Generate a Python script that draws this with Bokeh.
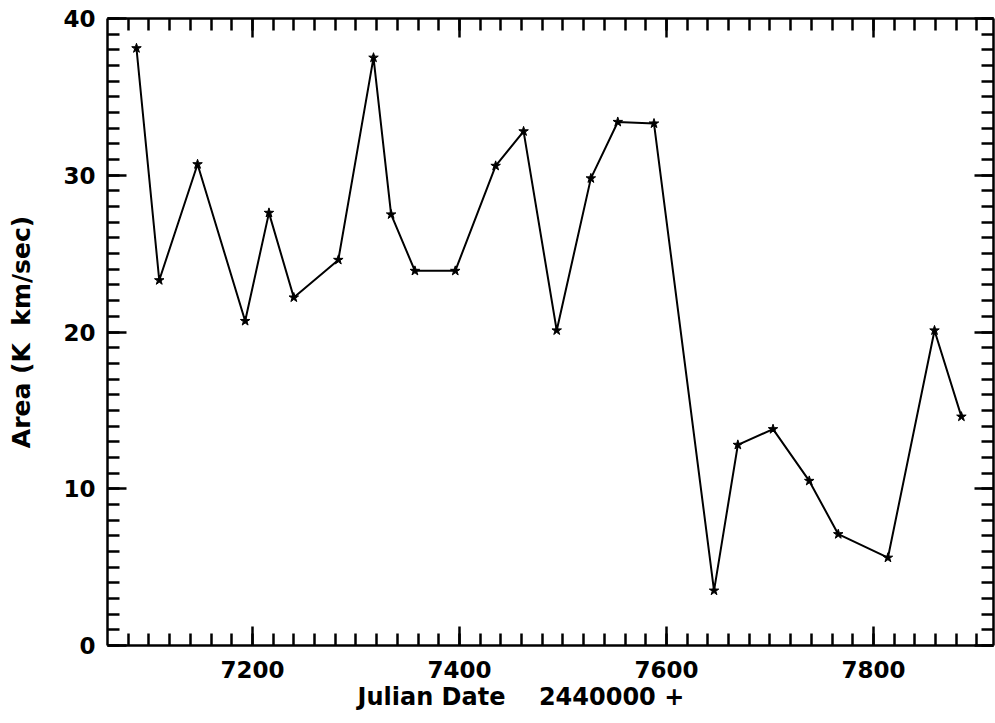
import numpy as np
from bokeh.plotting import figure
from bokeh.models import LinearAxis, FixedTicker, Range1d, Title
from bokeh.embed import file_html
from bokeh.resources import INLINE

julian_date = [7088, 7110, 7147, 7193, 7216, 7240, 7283, 7317, 7334, 7357,
               7396, 7435, 7462, 7494, 7527, 7553, 7588, 7646, 7669, 7703,
               7738, 7766, 7814, 7859, 7885]
area = [38.1, 23.3, 30.7, 20.7, 27.6, 22.2, 24.6, 37.5, 27.5, 23.9,
        23.9, 30.6, 32.8, 20.1, 29.8, 33.4, 33.3, 3.5, 12.8, 13.8,
        10.5, 7.1, 5.6, 20.1, 14.6]

x_major_ticks = [7200, 7400, 7600, 7800]
x_minor_step = 20
y_major_ticks = [0, 10, 20, 30, 40]
y_minor_step = 1
x_start, x_end = 7060, 7916
y_start, y_end = 0, 40

x_minor_ticks = [float(v) for v in np.arange(7080, x_end, x_minor_step)]
y_minor_ticks = [float(v) for v in np.arange(y_start, y_end + 0.5, y_minor_step)]

FONT = "DejaVu Sans"

p = figure(width=995, height=723, frame_width=886, frame_height=627,
           x_range=Range1d(x_start, x_end), y_range=Range1d(y_start, y_end),
           output_backend="svg", toolbar_location=None,
           y_axis_label="Area (K\u00a0\u00a0km/sec)",
           min_border_left=107, min_border_top=18, min_border_right=2,
           min_border_bottom=78)
p.grid.visible = False
p.outline_line_color = None
p.background_fill_color = "white"
p.border_fill_color = "white"

p.line(julian_date, area, line_color="black", line_width=2)
p.scatter(julian_date, area, marker="star", size=10,
          fill_color="black", line_color="black")

def style(ax, ticker, labels=True):
    ax.ticker = ticker
    ax.axis_line_width = 2.5
    ax.axis_line_color = "black"
    ax.major_tick_in = 19
    ax.major_tick_out = 0
    ax.minor_tick_in = 12
    ax.minor_tick_out = 0
    ax.major_tick_line_width = 2.5
    ax.minor_tick_line_width = 2.5
    ax.major_tick_line_color = "black"
    ax.minor_tick_line_color = "black"
    ax.major_label_text_font = FONT
    ax.major_label_text_font_style = "bold"
    if labels:
        ax.major_label_text_color = "black"
        ax.major_label_text_font_size = "23px"
    else:
        ax.major_label_text_color = None
        ax.major_label_text_font_size = "1px"
        ax.major_label_standoff = 0

def xticker():
    return FixedTicker(ticks=x_major_ticks, minor_ticks=x_minor_ticks)

def yticker():
    return FixedTicker(ticks=y_major_ticks, minor_ticks=y_minor_ticks)

style(p.xaxis[0], xticker())
style(p.yaxis[0], yticker())
p.xaxis[0].major_label_standoff = 15
p.yaxis[0].major_label_standoff = 12
ya = p.yaxis[0]
ya.axis_label_text_font = FONT
ya.axis_label_text_font_style = "bold"
ya.axis_label_text_color = "black"
ya.axis_label_text_font_size = "25px"
ya.axis_label_standoff = 24

top = LinearAxis()
style(top, xticker(), labels=False)
p.add_layout(top, "above")
right = LinearAxis()
style(right, yticker(), labels=False)
p.add_layout(right, "right")

xlabel = Title(text="Julian Date\u00a0\u00a0\u00a0\u00a02440000\u00a0+",
               align="left", offset=250, text_font=FONT,
               text_font_style="bold", text_font_size="24px",
               text_color="black", standoff=0)
p.add_layout(xlabel, "below")

open("out.html", "w").write(file_html(p, INLINE))
